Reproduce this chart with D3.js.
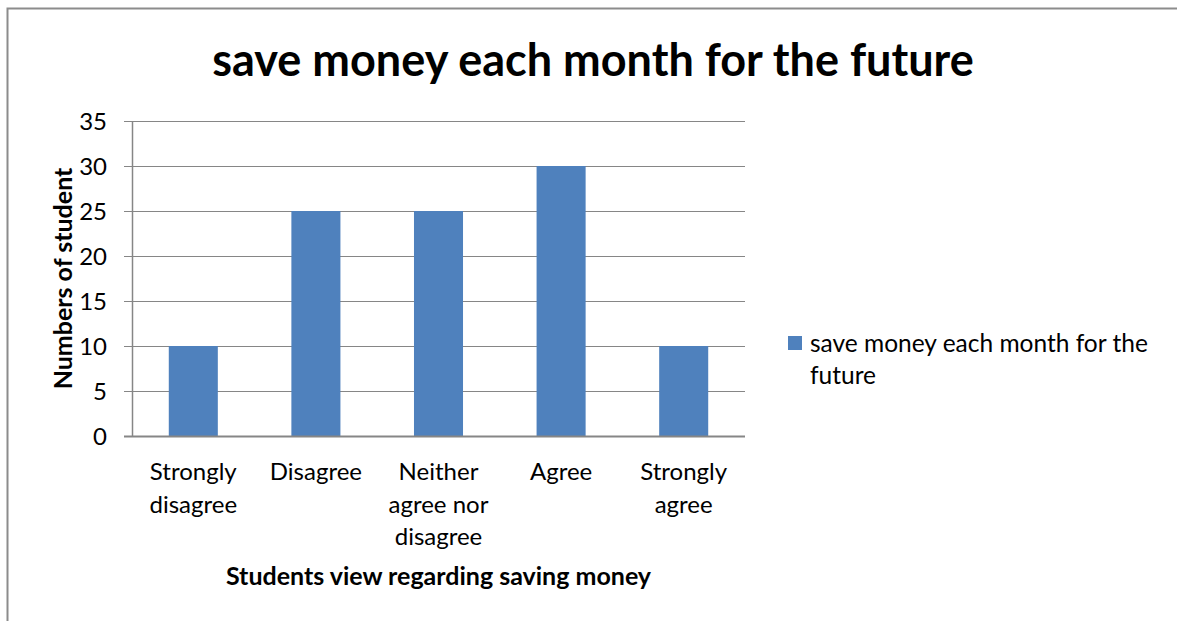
<!DOCTYPE html>
<html>
<head>
<meta charset="utf-8">
<script src="https://cdn.jsdelivr.net/npm/d3@7/dist/d3.min.js"></script>
<style>
  html, body { margin: 0; padding: 0; background: #fff; }
  svg { display: block; }
  text { font-family: Lato, "Open Sans", sans-serif; fill: #000; }
</style>
</head>
<body>
<svg id="chart" width="1177" height="621"></svg>
<script>
// Survey answers and student counts
const categories = [
  ["Strongly", "disagree"],
  ["Disagree"],
  ["Neither", "agree nor", "disagree"],
  ["Agree"],
  ["Strongly", "agree"]
];
const counts = [10, 25, 25, 30, 10];
const yTicks = [0, 5, 10, 15, 20, 25, 30, 35];
const seriesLines = ["save money each month for the", "future"];
const titleText = "save money each month for the future";
const xTitle = "Students view regarding saving money";
const yTitle = "Numbers of student";

const svg = d3.select("#chart");
const W = 1177, H = 621;
const margin = { left: 132, right: 432, top: 121, bottom: 185 };
const plotW = W - margin.left - margin.right;
const plotH = H - margin.top - margin.bottom;
const barColor = "#4F81BD";
const gridColor = "#868686";

// outer chart frame
svg.append("rect")
  .attr("x", 7.5).attr("y", 8.5)
  .attr("width", W + 20).attr("height", H + 20)
  .attr("fill", "none").attr("stroke", "#8c8c8c").attr("stroke-width", 2);

const g = svg.append("g").attr("transform", `translate(${margin.left},${margin.top})`);

const keys = categories.map(c => c.join(" "));
const x = d3.scaleBand().domain(keys).range([0, plotW]).paddingInner(0.6).paddingOuter(0.3);
const y = d3.scaleLinear().domain([0, 35]).range([plotH, 0]);

// horizontal gridlines
g.append("g")
  .selectAll("line")
  .data(yTicks.filter(t => t > 0))
  .join("line")
  .attr("x1", 0).attr("x2", plotW)
  .attr("y1", d => Math.round(y(d)) + 0.5).attr("y2", d => Math.round(y(d)) + 0.5)
  .attr("stroke", gridColor).attr("stroke-width", 1);

// bars
g.append("g")
  .selectAll("rect")
  .data(counts)
  .join("rect")
  .attr("x", (d, i) => x(keys[i]))
  .attr("width", x.bandwidth())
  .attr("y", d => y(d))
  .attr("height", d => y(0) - y(d))
  .attr("fill", barColor);

// y axis
const yAxis = g.append("g")
  .call(d3.axisLeft(y).tickValues(yTicks).tickSize(8).tickPadding(17));
yAxis.select(".domain").attr("stroke", gridColor).attr("stroke-width", 1.5).attr("d", `M0.5,0V${plotH}`);
yAxis.selectAll(".tick line").attr("stroke", gridColor);
yAxis.selectAll(".tick text")
  .style("font-size", "24px").style("font-family", "Lato, sans-serif").attr("fill", "#000")
  .attr("dy", "0.36em");

// x axis baseline
g.append("line")
  .attr("x1", -8).attr("x2", plotW)
  .attr("y1", plotH + 0.5).attr("y2", plotH + 0.5)
  .attr("stroke", gridColor).attr("stroke-width", 2);

// category labels
const catG = g.append("g");
categories.forEach((lines, i) => {
  const cx = x(keys[i]) + x.bandwidth() / 2;
  const t = catG.append("text")
    .attr("text-anchor", "middle")
    .style("font-size", "24px");
  lines.forEach((ln, j) => {
    t.append("tspan").attr("x", cx).attr("y", plotH + 44 + j * 32.5).text(ln);
  });
});

// title
svg.append("text")
  .attr("x", 593).attr("y", 76)
  .attr("text-anchor", "middle")
  .style("font-size", "45px").style("font-weight", "bold")
  .text(titleText);

// axis titles
svg.append("text")
  .attr("x", margin.left + plotW / 2).attr("y", 585)
  .attr("text-anchor", "middle")
  .style("font-size", "25px").style("font-weight", "bold")
  .text(xTitle);

svg.append("text")
  .attr("transform", `translate(72,${margin.top + plotH / 2}) rotate(-90)`)
  .attr("text-anchor", "middle")
  .style("font-size", "25px").style("font-weight", "bold")
  .text(yTitle);

// legend
const lg = svg.append("g").attr("transform", "translate(788,336)");
lg.append("rect").attr("width", 14).attr("height", 14).attr("fill", barColor);
const lt = lg.append("text").style("font-size", "24.5px");
seriesLines.forEach((ln, j) => {
  lt.append("tspan").attr("x", 22).attr("y", 16 + j * 32).text(ln);
});
</script>
</body>
</html>
